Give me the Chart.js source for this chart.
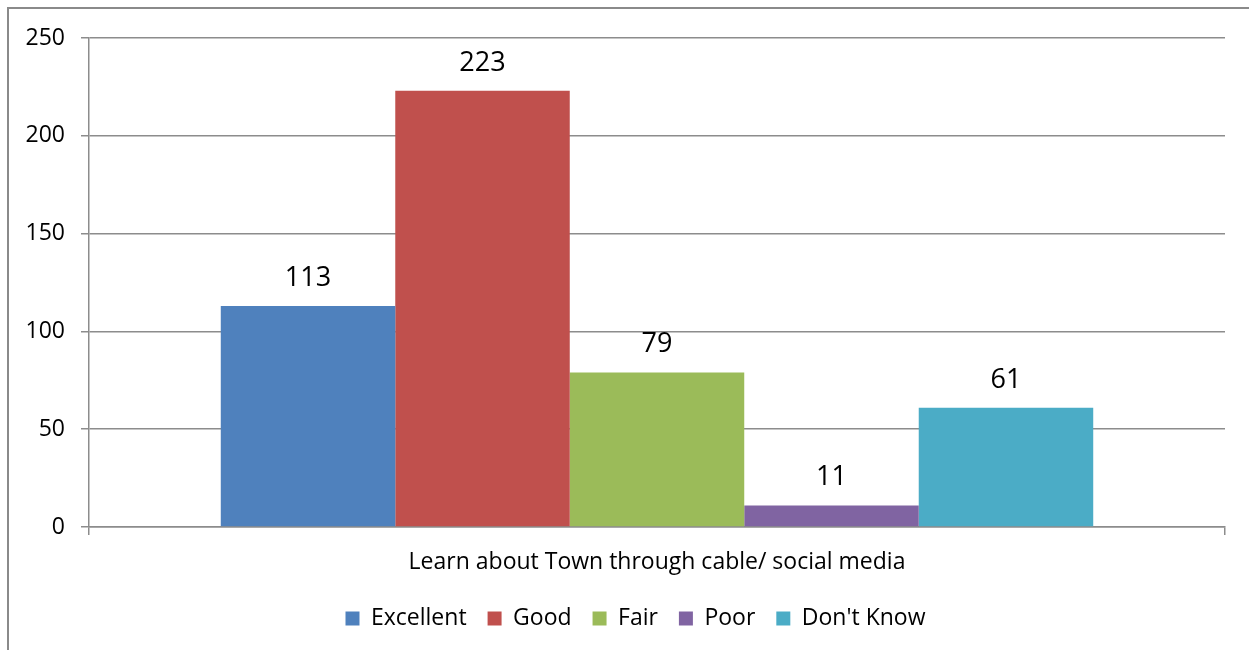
<!DOCTYPE html>
<html lang="en">
<head>
<meta charset="UTF-8">
<title>Learn about Town through cable/ social media</title>
<script src="https://cdn.jsdelivr.net/npm/chart.js"></script>
<style>
  html, body { margin: 0; padding: 0; background: #fff; }
  #wrap { width: 1249px; height: 650px; }
</style>
</head>
<body>
<div id="wrap"><canvas id="myChart" width="1249" height="650"></canvas></div>
<script>
const categories = ['Learn about Town through cable/ social media'];
const seriesNames = ['Excellent', 'Good', 'Fair', 'Poor', "Don't Know"];
const seriesValues = [[113], [223], [79], [11], [61]];
const seriesColors = ['#4F81BD', '#C0504D', '#9BBB59', '#8064A2', '#4BACC6'];
const yTicks = [0, 50, 100, 150, 200, 250];

const FONT = '"Open Sans", sans-serif';
const gridColor = '#8c8c8c';

const frame = {
    id: 'frame',
    afterLayout(chart) {
        // legend in the original sits a bit right of centre
        chart.legend.left += 18;
        chart.legend.right += 18;
    },
    beforeDraw(chart) {
        const c = chart.ctx;
        c.save();
        c.fillStyle = '#fff';
        c.fillRect(0, 0, chart.width, chart.height);
        c.strokeStyle = '#8a8a8a';
        c.lineWidth = 2;
        c.strokeRect(8, 8, chart.width + 20, chart.height + 20);
        c.restore();
    }
};

const valueLabels = {
    id: 'valueLabels',
    afterDatasetsDraw(chart) {
        const c = chart.ctx;
        c.save();
        c.font = '27px ' + FONT;
        c.fillStyle = '#000';
        c.textAlign = 'center';
        c.textBaseline = 'alphabetic';
        chart.data.datasets.forEach((ds, i) => {
            chart.getDatasetMeta(i).data.forEach((bar, j) => {
                c.fillText(ds.data[j], bar.x, bar.y - 20);
            });
        });
        c.restore();
    }
};

new Chart(document.getElementById('myChart'), {
    type: 'bar',
    data: {
        labels: categories,
        datasets: seriesNames.map((name, i) => ({
            label: name,
            data: seriesValues[i],
            backgroundColor: seriesColors[i],
            borderWidth: 0,
            barPercentage: 1,
            categoryPercentage: 0.768
        }))
    },
    options: {
        responsive: false,
        animation: false,
        layout: { padding: { top: 38, right: 24, left: 10, bottom: 10 } },
        plugins: {
            legend: {
                position: 'bottom',
                labels: {
                    font: { family: FONT, size: 23 },
                    color: '#000',
                    boxWidth: 14,
                    boxHeight: 14,
                    padding: 21
                }
            },
            tooltip: { enabled: false }
        },
        scales: {
            x: {
                afterFit(scale) { scale.height = 59; },
                grid: { drawOnChartArea: false, drawTicks: true, tickLength: 8, color: gridColor, lineWidth: 1.5 },
                border: { display: true, color: gridColor, width: 1.5 },
                ticks: { font: { family: FONT, size: 23 }, color: '#000', padding: 14 }
            },
            y: {
                min: 0, max: 250,
                afterBuildTicks(scale) { scale.ticks = yTicks.map(v => ({ value: v })); },
                afterFit(scale) { scale.width = 79; },
                grid: { color: gridColor, lineWidth: 1.5, tickLength: 8 },
                border: { display: true, color: gridColor, width: 1.5 },
                ticks: { font: { family: FONT, size: 23 }, color: '#000', padding: 16 }
            }
        }
    },
    plugins: [frame, valueLabels]
});
</script>
</body>
</html>
